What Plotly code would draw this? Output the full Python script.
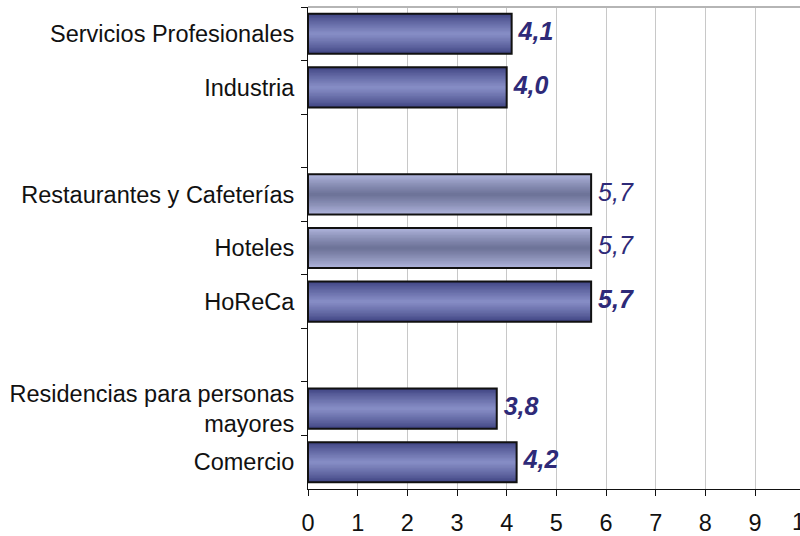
import plotly.graph_objects as go

categories = ["Servicios Profesionales", "Industria", " ",
              "Restaurantes y Cafeterías", "Hoteles", "HoReCa", "  ",
              "Residencias para personas<br>mayores", "Comercio"]
values = [4.1, 4.0, None, 5.7, 5.7, 5.7, None, 3.8, 4.2]
value_labels = ["4,1", "4,0", "", "5,7", "5,7", "5,7", "", "3,8", "4,2"]
light_bar = [False, False, False, True, True, False, False, False, False]
x_ticks = [0, 1, 2, 3, 4, 5, 6, 7, 8, 9]

BAR_W = 0.75
N = 14

def hex2rgb(h):
    h = h.lstrip("#")
    return [int(h[i:i + 2], 16) for i in (0, 2, 4)]

def mix(a, b, t):
    ca, cb = hex2rgb(a), hex2rgb(b)
    return "rgb(%d,%d,%d)" % tuple(round(ca[i] + (cb[i] - ca[i]) * t) for i in range(3))

dark_edge, dark_mid = "#3e4381", "#858cc4"
light_edge, light_mid = "#b2b7df", "#6e7499"

fig = go.Figure()
for k in range(N):
    t = k / (N - 1)
    w = BAR_W * (1 - k / N)
    cols = []
    for lb in light_bar:
        cols.append(mix(light_edge, light_mid, t ** 0.8) if lb else mix(dark_edge, dark_mid, t ** 0.8))
    fig.add_trace(go.Bar(
        y=categories, x=values, orientation="h", width=w,
        marker=dict(color=cols, line=dict(width=0)),
        hoverinfo="skip", showlegend=False))

# outline
fig.add_trace(go.Bar(
    y=categories, x=values, orientation="h", width=BAR_W,
    marker=dict(color="rgba(0,0,0,0)", line=dict(color="#111111", width=2)),
    hoverinfo="skip", showlegend=False))

texts = []
for lab, lb in zip(value_labels, light_bar):
    if not lab:
        texts.append("")
    elif lb:
        texts.append("<i>" + lab + "</i>")
    else:
        texts.append("<b><i>" + lab + "</i></b>")

fig.add_trace(go.Scatter(
    y=categories, x=[v if v is not None else 0 for v in values],
    mode="text", text=[" " + t if t else "" for t in texts],
    textposition="middle right",
    textfont=dict(family="Arial, Liberation Sans, sans-serif", size=25, color="#2e2a78"),
    hoverinfo="skip", showlegend=False, cliponaxis=False))

XMAX = 9.905
FS = 23.5
fig.update_layout(
    width=800, height=536,
    margin=dict(l=308, r=0, t=7, b=47),
    barmode="overlay",
    plot_bgcolor="white", paper_bgcolor="white",
    font=dict(family="Arial, Liberation Sans, sans-serif", size=FS, color="#111111"),
    xaxis=dict(range=[0, XMAX], tickvals=x_ticks, showgrid=True, gridcolor="#c8c8c8",
               gridwidth=1, zeroline=False, showline=True, linecolor="#111111", linewidth=1,
               ticks="outside", ticklen=6, tickcolor="#111111", ticklabelstandoff=7,
               tickfont=dict(size=FS), fixedrange=True),
    yaxis=dict(type="category", categoryorder="array", categoryarray=categories,
               autorange="reversed", showgrid=False, zeroline=False, showline=True,
               linecolor="#111111", linewidth=1, ticks="outside", ticklen=6,
               tickson="boundaries", tickcolor="#111111", ticklabelstandoff=8,
               tickfont=dict(size=FS), fixedrange=True),
    shapes=[dict(type="line", xref="paper", yref="paper", x0=0, x1=1, y0=1, y1=1,
                 line=dict(color="#b5b5b5", width=2))],
    annotations=[dict(text="10", xref="paper", yref="paper", x=10 / XMAX, y=0,
                      yanchor="middle", xanchor="center", yshift=-33, showarrow=False,
                      font=dict(size=FS, color="#111111"))],
)

fig.write_html("out.html", config={"displayModeBar": False},
               post_script="document.body.style.margin='0';")
